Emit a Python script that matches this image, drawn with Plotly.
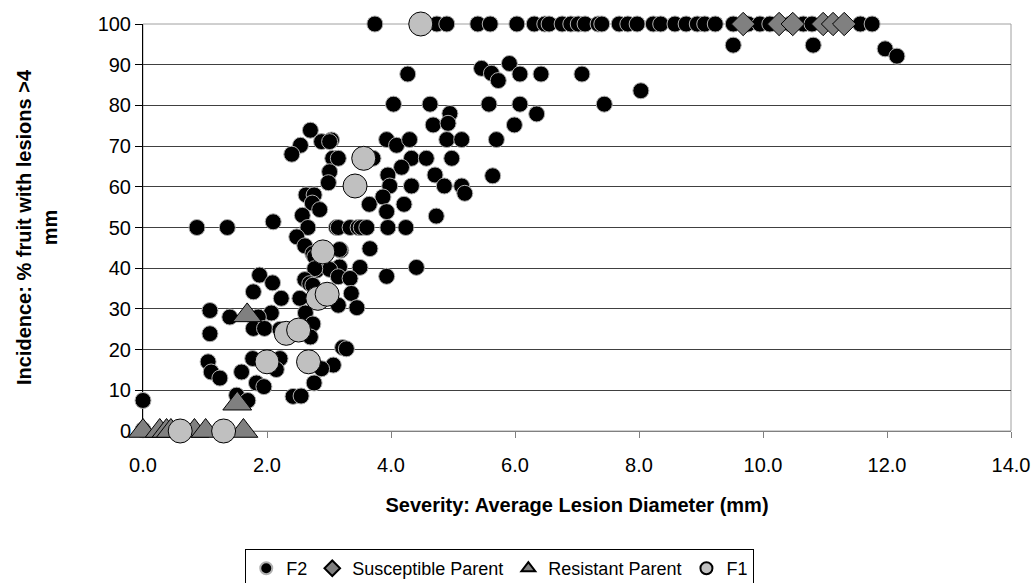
import plotly.graph_objects as go

# ---------------- data ----------------
f2_x = [
    # y = 100 row
    3.74, 4.74, 4.90, 5.40, 5.60, 6.03, 6.31, 6.48, 6.55, 6.76, 6.90, 7.02, 7.13, 7.34, 7.40,
    7.68, 7.82, 7.97, 8.23, 8.35, 8.58, 8.76, 8.94, 9.06, 9.23, 9.52, 9.76, 9.95, 10.11,
    10.44, 10.65, 10.79, 11.57, 11.76,
    # upper stragglers
    9.52, 10.81, 11.97, 12.16,
    4.27, 5.46, 5.62, 5.73, 5.91, 6.08, 6.42, 7.08, 8.03,
    4.04, 4.63, 5.58, 6.08, 7.44, 4.95, 6.35,
    4.68, 4.92, 5.99,
    3.93, 4.09, 4.30, 4.90, 5.14, 5.70, 3.04,
    2.70, 2.54, 2.40, 2.88, 3.01,
    3.06, 3.15, 3.71, 4.33, 4.57, 4.98, 4.17,
    3.01, 3.95, 4.71, 5.64,
    2.99, 3.98, 4.33, 4.86, 5.14, 5.19,
    2.63, 2.76, 3.87, 2.73, 3.65, 4.21,
    2.85, 3.93, 2.57, 4.73,
    2.10,
    0.87, 1.36, 2.66, 3.12, 3.15, 3.34, 3.47, 3.52, 3.61, 3.95, 4.24,
    2.48, 2.61, 3.19, 3.66, 3.17, 2.74, 2.77,
    4.41, 3.50, 3.17, 2.80, 3.01, 2.77,
    3.93, 1.88, 3.15, 3.34, 2.61, 2.09, 2.69, 2.74,
    1.78, 3.36, 2.23, 2.53, 3.15, 3.45,
    1.08, 2.07, 2.62, 1.40, 1.86,
    2.74, 1.78, 1.96, 2.21, 1.08, 2.70,
    3.22, 3.28,
    1.77, 2.21, 1.05, 3.07, 2.88, 2.15, 1.10, 1.59, 1.24,
    1.83, 2.76, 1.95,
    1.51, 2.42, 2.55, 1.69, 0.00,
    0.00,
]
f2_y = [
    100, 100, 100, 100, 100, 100, 100, 100, 100, 100, 100, 100, 100, 100, 100,
    100, 100, 100, 100, 100, 100, 100, 100, 100, 100, 100, 100, 100, 100,
    100, 100, 100, 100, 100,
    94.8, 94.8, 93.9, 92.1,
    87.7, 89.1, 87.9, 86.1, 90.3, 87.7, 87.7, 87.7, 83.6,
    80.3, 80.3, 80.3, 80.3, 80.3, 78.0, 77.9,
    75.2, 75.6, 75.2,
    71.6, 70.2, 71.6, 71.6, 71.6, 71.6, 71.5,
    73.9, 70.2, 68.0, 71.1, 71.1,
    67.0, 67.0, 67.0, 67.0, 67.0, 67.0, 64.8,
    63.7, 62.9, 62.9, 62.7,
    61.0, 60.2, 60.2, 60.2, 60.2, 58.4,
    58.0, 58.0, 57.5, 56.0, 55.7, 55.7,
    54.4, 53.9, 53.0, 52.8,
    51.4,
    50, 50, 50, 50, 50, 50, 50, 50, 50, 50, 50,
    47.7, 45.5, 44.4, 44.8, 44.6, 43.6, 42.8,
    40.2, 40.2, 40.3, 39.5, 39.7, 39.9,
    38.0, 38.3, 37.9, 37.5, 37.2, 36.4, 36.2, 35.8,
    34.2, 33.8, 32.6, 32.6, 30.9, 30.3,
    29.6, 29.0, 29.0, 28.0, 28.0,
    26.3, 25.2, 25.2, 25.0, 23.9, 23.1,
    20.5, 20.2,
    17.8, 17.8, 17.0, 16.2, 15.3, 15.1, 14.5, 14.5, 13.0,
    11.8, 11.8, 10.9,
    8.8, 8.5, 8.6, 7.5, 7.5,
    0.3,
]

susc_x = [9.68, 10.26, 10.48, 10.97, 11.13, 11.31]
susc_y = [100, 100, 100, 100, 100, 100]

resist_x = [0.00, 0.27, 0.38, 0.45, 0.83, 1.01, 1.62, 1.52, 1.68]
resist_y = [0, 0, 0, 0, 0, 0, 0, 6.7, 28.4]

f1_x = [0.60, 1.30, 2.00, 2.67, 2.31, 2.51, 2.82, 2.97, 2.90, 3.42, 3.56, 4.48]
f1_y = [0, 0, 17.0, 17.0, 24.0, 24.8, 32.6, 33.6, 44.0, 60.2, 67.0, 100]

x_ticks = [0, 2, 4, 6, 8, 10, 12, 14]
y_ticks = [0, 10, 20, 30, 40, 50, 60, 70, 80, 90, 100]

FONT = "Liberation Sans, Arial, sans-serif"
FS = 20

fig = go.Figure()
fig.add_trace(go.Scatter(
    x=f2_x, y=f2_y, mode="markers", name="F2", cliponaxis=False,
    marker=dict(symbol="circle", size=16, color="#000000",
                line=dict(color="#b0b0b0", width=1)),
))
fig.add_trace(go.Scatter(
    x=susc_x, y=susc_y, mode="markers", name="Susceptible Parent", cliponaxis=False,
    marker=dict(symbol="diamond", size=18, color="#808080",
                line=dict(color="#000000", width=1)),
))
fig.add_trace(go.Scatter(
    x=resist_x, y=resist_y, mode="markers", name="Resistant Parent", cliponaxis=False,
    marker=dict(symbol="triangle-up", size=25, color="#808080",
                line=dict(color="#000000", width=1)),
))
fig.add_trace(go.Scatter(
    x=f1_x, y=f1_y, mode="markers", name="F1", cliponaxis=False,
    marker=dict(symbol="circle", size=24, color="#c0c0c0",
                line=dict(color="#000000", width=1)),
))

fig.update_layout(
    width=1035, height=583,
    margin=dict(l=143, r=24, t=24, b=152, autoexpand=False),
    paper_bgcolor="white", plot_bgcolor="white",
    font=dict(family=FONT, size=FS, color="black"),
    showlegend=True,
    legend=dict(
        orientation="h", x=0.411, xanchor="center", y=-0.29, yanchor="top",
        bordercolor="black", borderwidth=1, bgcolor="white",
        font=dict(family=FONT, size=18, color="black"),
        itemsizing="constant", itemwidth=30, tracegroupgap=0,
    ),
    xaxis=dict(
        range=[0, 14], tickvals=x_ticks, tickformat=".1f",
        showgrid=False, zeroline=False, automargin=False,
        showline=True, linecolor="#808080", linewidth=1,
        ticks="outside", ticklen=6, tickcolor="#808080",
        ticklabelstandoff=10,
        tickfont=dict(family=FONT, size=FS, color="black"),
        layer="below traces",
        title=dict(text="<b>Severity: Average Lesion Diameter (mm)</b>",
                   font=dict(family=FONT, size=FS, color="black"), standoff=22),
    ),
    yaxis=dict(
        range=[0, 100], tickvals=y_ticks, automargin=False,
        showgrid=True, gridcolor="#404040", gridwidth=1, zeroline=False,
        showline=True, linecolor="#000000", linewidth=1,
        ticks="outside", ticklen=7, tickcolor="#000000",
        tickfont=dict(family=FONT, size=FS, color="black"),
        layer="below traces",
        title=dict(text="<b>Incidence: % fruit with lesions >4<br>mm</b>",
                   font=dict(family=FONT, size=FS, color="black"), standoff=34),
    ),
    shapes=[dict(type="rect", xref="paper", yref="paper", x0=0, x1=1, y0=0, y1=1,
                 line=dict(color="#a0a0a0", width=1), layer="below")],
)

fig.write_html("out.html")
